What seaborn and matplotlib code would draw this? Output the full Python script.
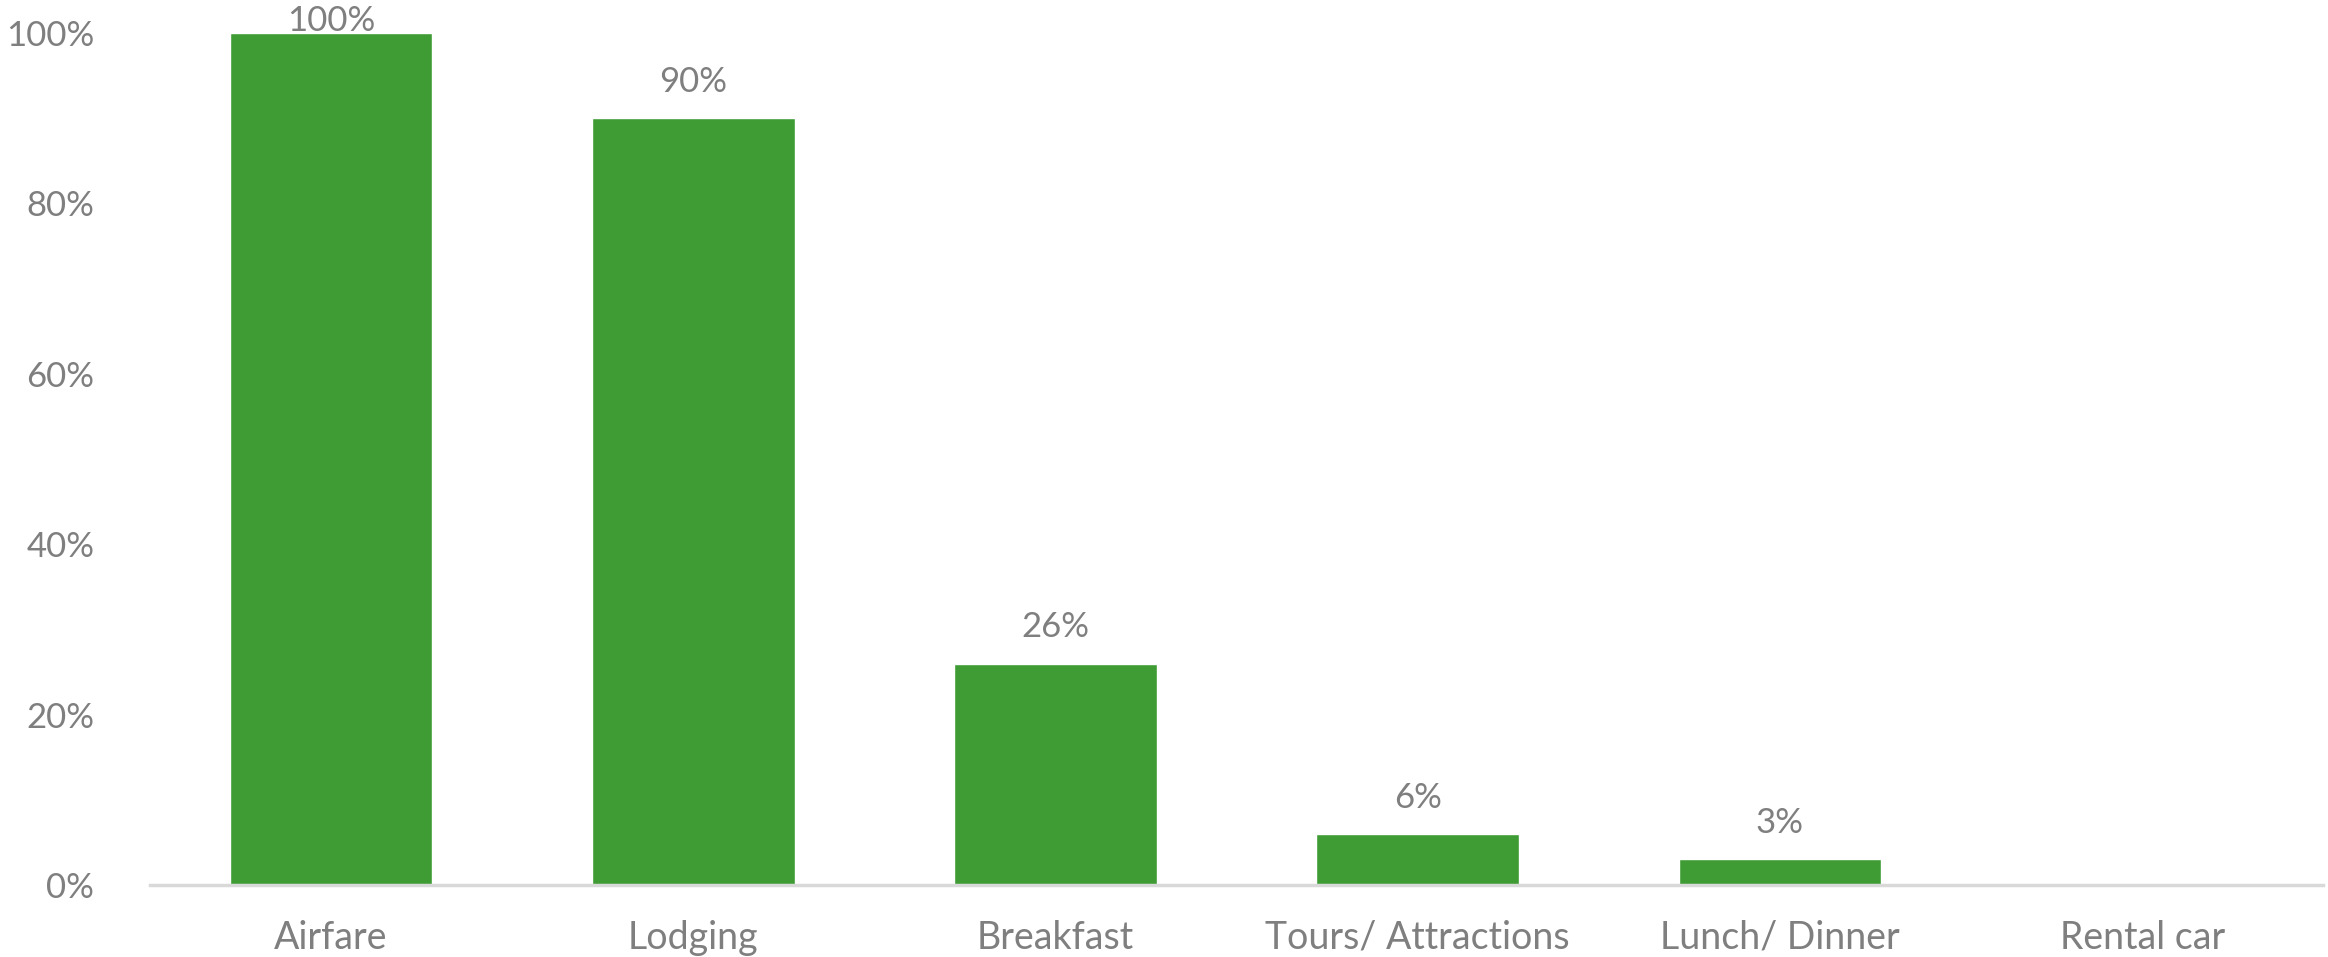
import matplotlib
matplotlib.use("Agg")
import matplotlib.pyplot as plt
import seaborn as sns
import pandas as pd

# data
categories = ["Airfare", "Lodging", "Breakfast", "Tours/ Attractions", "Lunch/ Dinner", "Rental car"]
shares = [100, 90, 26, 6, 3, 0]
y_ticks = [0, 20, 40, 60, 80, 100]

df = pd.DataFrame({"category": categories, "share": shares})

sns.set_style("white")
plt.rcParams["font.family"] = ["Lato", "DejaVu Sans"]

green = "#3f9c35"
grey_text = "#7f7f7f"

fig = plt.figure(figsize=(23.28, 9.57), dpi=100)
ax = fig.add_axes([0.0644, 0.0752, 0.9336, 0.8903])

sns.barplot(data=df, x="category", y="share", color=green, width=0.56,
            saturation=1, ax=ax)

ax.set_ylim(0, 100)
ax.set_yticks(y_ticks)
ax.set_yticklabels([f"{t}%" for t in y_ticks])
ax.set_xlabel("")
ax.set_ylabel("")

for side in ["top", "right", "left"]:
    ax.spines[side].set_visible(False)
ax.spines["bottom"].set_color("#d9d9d9")
ax.spines["bottom"].set_linewidth(2.5)

ax.tick_params(axis="both", length=0, colors=grey_text)
ax.tick_params(axis="x", labelsize=27, pad=25)
ax.tick_params(axis="y", labelsize=25, pad=40)

# value labels above bars (skip zero); keep the top one inside the figure
fig_h_px = fig.get_figheight() * fig.dpi
for i, v in enumerate(shares):
    if v > 0:
        top_px = ax.transData.transform((i, v))[1]
        headroom_pt = (fig_h_px - 21 - top_px) * 72 / fig.dpi
        off = min(26, headroom_pt)
        ax.annotate(f"{v}%", xy=(i, v), xytext=(0, off), textcoords="offset points",
                    ha="center", va="center", fontsize=25, color=grey_text,
                    annotation_clip=False)

fig.savefig("out.png", dpi=100)
